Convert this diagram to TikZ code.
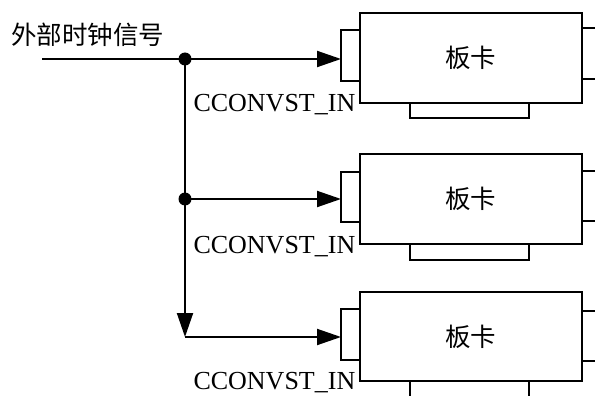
\documentclass[tikz,border=0pt]{standalone}
\usepackage{fontspec}
\setmainfont{Liberation Serif}
\newfontfamily\cjk{Noto Sans CJK SC}
\usetikzlibrary{arrows.meta}
\tikzset{
  box/.style={draw, line width=2pt, inner sep=0pt, outer sep=0pt},
  wire/.style={line width=2pt},
  arr/.style={wire, -{Triangle[length=24pt,width=16pt]}},
  dot/.style={circle, fill, inner sep=0pt, minimum size=13pt},
  cardtxt/.style={font=\cjk\fontsize{25.5pt}{26pt}\selectfont},
  lbl/.style={font=\fontsize{26pt}{26pt}\selectfont, inner sep=0pt, anchor=base east},
}
\begin{document}
\begin{tikzpicture}[x=1pt,y=-1pt]
\clip (0,0) rectangle (595,396);
\fill[white] (0,0) rectangle (595,396);
% card 1
\draw[box] (341,30) rectangle (360,81);
\draw[box] (410,102.7) rectangle (529,118);
\draw[box] (581.5,28) rectangle (600,79);
\node[box, draw, minimum width=221.5pt, minimum height=90pt, anchor=north west, cardtxt] (c1) at (360,12.7) {板卡};
\coordinate (l1) at (341,59);
% card 2
\draw[box] (410,244) rectangle (529,260);
\draw[box] (581.5,170.7) rectangle (600,221);
\draw[box] (341,171.7) rectangle (360,222.3);
\node[box, draw, minimum width=221.5pt, minimum height=90pt, anchor=north west, cardtxt] (c2) at (360,154) {板卡};
\coordinate (l2) at (341,199);
% card 3
\draw[box] (410,381) rectangle (529,400);
\draw[box] (581.5,311) rectangle (600,361);
\draw[box] (341,309) rectangle (360,360);
\node[box, draw, minimum width=221.5pt, minimum height=89.3pt, anchor=north west, cardtxt] (c3) at (360,291.7) {板卡};
\coordinate (l3) at (341,337);
% input
\node[font=\cjk\fontsize{25.5pt}{26pt}\selectfont, anchor=west, inner sep=0pt] (in) at (11,35) {外部时钟信号};
\coordinate (s) at (42,59);
\node[dot] (j1) at (185,59) {};
\node[dot] (j2) at (185,199) {};
\coordinate (j3) at (185,337);
\draw[wire] (s) -- (j1.center);
\draw[arr] (j1.center) -- (l1);
\draw[arr] (j2.center) -- (l2);
\draw[arr] (j1.center) -- (j3);
\draw[arr] (j3) -- (l3);
% labels
\node[lbl] (t1) at (355.5,111.7) {CCONVST\_IN};
\node[lbl] (t2) at (355.5,253) {CCONVST\_IN};
\node[lbl] (t3) at (355.5,389) {CCONVST\_IN};
\end{tikzpicture}
\end{document}
